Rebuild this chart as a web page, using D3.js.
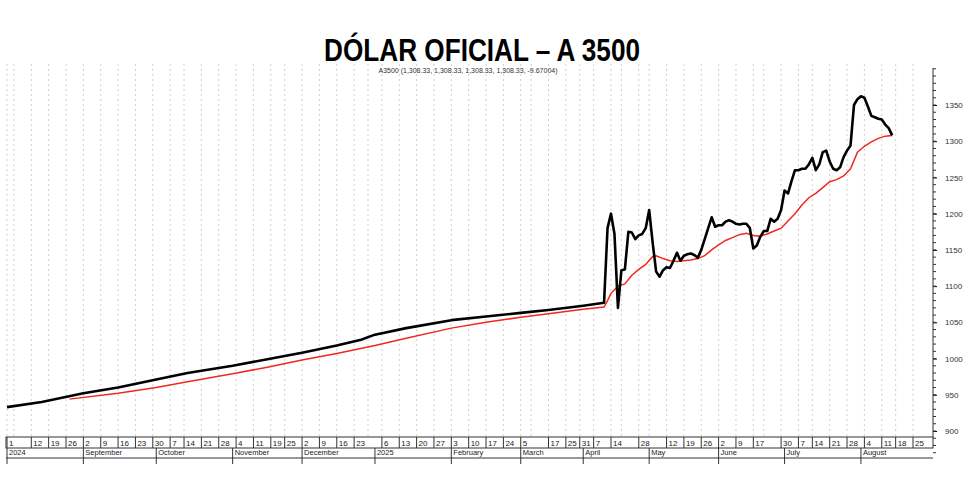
<!DOCTYPE html>
<html><head><meta charset="utf-8">
<script src="https://cdn.jsdelivr.net/npm/d3@7"></script>
<style>body{margin:0;background:#fff}text{font-family:"Liberation Sans",Arial,sans-serif}</style>
</head><body><div id="chart"></div>
<script>
// Argentine market holidays in the range (no trading)
const holidays = ["2024-10-11","2024-11-18","2024-12-25","2025-01-01","2025-03-03","2025-03-04",
  "2025-03-24","2025-04-02","2025-04-17","2025-04-18","2025-05-01","2025-05-02","2025-06-16",
  "2025-06-20","2025-07-09","2025-08-15"];

const blackSeries = [
  ["2024-08-01",933],["2024-08-15",940],["2024-09-02",952],["2024-09-16",960],["2024-10-01",971],
  ["2024-10-15",980],["2024-11-01",990],["2024-11-15",999],["2024-12-02",1008],["2024-12-16",1018],
  ["2024-12-26",1026],["2025-01-02",1033],["2025-01-15",1042],["2025-02-03",1053],["2025-02-17",1058],
  ["2025-03-05",1063],["2025-03-17",1067],["2025-04-01",1073],["2025-04-10",1077],
  ["2025-04-11",1180],["2025-04-14",1200],["2025-04-15",1172],["2025-04-16",1070],["2025-04-21",1122],
  ["2025-04-22",1123],["2025-04-23",1175],["2025-04-24",1174],["2025-04-25",1165],["2025-04-28",1170],
  ["2025-04-29",1172],["2025-04-30",1180],["2025-05-05",1205],["2025-05-06",1160],["2025-05-07",1120],
  ["2025-05-08",1113],["2025-05-09",1122],["2025-05-12",1126],["2025-05-13",1125],["2025-05-14",1135],
  ["2025-05-15",1146],["2025-05-16",1135],["2025-05-19",1142],["2025-05-20",1144],["2025-05-21",1145],
  ["2025-05-22",1143],["2025-05-23",1139],["2025-05-26",1150],["2025-05-27",1165],["2025-05-28",1180],
  ["2025-05-29",1195],["2025-05-30",1182],["2025-06-02",1184],["2025-06-03",1184],["2025-06-04",1189],
  ["2025-06-05",1191],["2025-06-06",1189],["2025-06-09",1186],["2025-06-10",1185],["2025-06-11",1186],
  ["2025-06-12",1186],["2025-06-13",1180],["2025-06-17",1152],["2025-06-18",1156],["2025-06-19",1168],
  ["2025-06-23",1176],["2025-06-24",1176],["2025-06-25",1193],["2025-06-26",1189],["2025-06-27",1193],
  ["2025-06-30",1205],["2025-07-01",1232],["2025-07-02",1228],["2025-07-03",1245],["2025-07-04",1260],
  ["2025-07-07",1260],["2025-07-08",1262],["2025-07-10",1262],["2025-07-11",1268],["2025-07-14",1277],
  ["2025-07-15",1260],["2025-07-16",1268],["2025-07-17",1285],["2025-07-18",1287],["2025-07-21",1272],
  ["2025-07-22",1262],["2025-07-23",1260],["2025-07-24",1264],["2025-07-25",1278],["2025-07-28",1287],
  ["2025-07-29",1294],["2025-07-30",1350],["2025-07-31",1358],["2025-08-01",1362],["2025-08-04",1360],
  ["2025-08-05",1348],["2025-08-06",1335],["2025-08-07",1333],["2025-08-08",1331],["2025-08-11",1330],
  ["2025-08-12",1323],["2025-08-13",1318],["2025-08-14",1308]];

const redSeries = [
  ["2024-08-27",944],["2024-09-16",952],["2024-10-01",960],["2024-10-15",968],["2024-11-01",979],
  ["2024-11-15",988],["2024-12-02",998],["2024-12-16",1007],["2025-01-02",1018],["2025-01-15",1028],
  ["2025-02-03",1042],["2025-02-17",1050],["2025-03-05",1057],["2025-03-17",1062],["2025-04-01",1068],
  ["2025-04-10",1071],["2025-04-11",1080],["2025-04-14",1090],["2025-04-16",1100],["2025-04-22",1103],
  ["2025-04-24",1115],["2025-04-28",1123],["2025-04-30",1130],["2025-05-06",1141],["2025-05-07",1142],
  ["2025-05-09",1138],["2025-05-13",1135],["2025-05-15",1134],["2025-05-19",1135],["2025-05-21",1136],
  ["2025-05-23",1138],["2025-05-27",1142],["2025-05-29",1150],["2025-06-02",1157],["2025-06-04",1163],
  ["2025-06-06",1167],["2025-06-10",1171],["2025-06-12",1173],["2025-06-17",1170],["2025-06-19",1169],
  ["2025-06-24",1172],["2025-06-26",1176],["2025-06-30",1180],["2025-07-02",1190],["2025-07-04",1200],
  ["2025-07-08",1212],["2025-07-11",1222],["2025-07-15",1228],["2025-07-17",1236],["2025-07-21",1244],
  ["2025-07-23",1247],["2025-07-25",1252],["2025-07-29",1262],["2025-07-31",1285],["2025-08-04",1293],
  ["2025-08-06",1299],["2025-08-08",1304],["2025-08-12",1307],["2025-08-14",1308]];

const dayLabels = ["2024-08-01","2024-08-12","2024-08-19","2024-08-26","2024-09-02","2024-09-09","2024-09-16",
  "2024-09-23","2024-09-30","2024-10-07","2024-10-14","2024-10-21","2024-10-28","2024-11-04","2024-11-11",
  "2024-11-19","2024-11-25","2024-12-02","2024-12-09","2024-12-16","2024-12-23","2025-01-06","2025-01-13",
  "2025-01-20","2025-01-27","2025-02-03","2025-02-10","2025-02-17","2025-02-24","2025-03-05","2025-03-17",
  "2025-03-25","2025-03-31","2025-04-07","2025-04-14","2025-04-28","2025-05-12","2025-05-19","2025-05-26",
  "2025-06-02","2025-06-09","2025-06-17","2025-06-30","2025-07-07","2025-07-14","2025-07-21","2025-07-28",
  "2025-08-04","2025-08-11","2025-08-18","2025-08-25"];

const monthLabels = [["2024-08-01","2024"],["2024-09-02","September"],["2024-10-01","October"],
  ["2024-11-01","November"],["2024-12-02","December"],["2025-01-02","2025"],["2025-02-03","February"],
  ["2025-03-05","March"],["2025-04-01","April"],["2025-05-05","May"],["2025-06-02","June"],
  ["2025-07-01","July"],["2025-08-01","August"]];

const yTicks = [900,950,1000,1050,1100,1150,1200,1250,1300,1350];

const W = 980, H = 480;
const parse = d3.timeParse("%Y-%m-%d"), fmt = d3.timeFormat("%Y-%m-%d");

// trading-day index for every date in range
const days = d3.timeDay.range(parse("2024-08-01"), parse("2025-08-30"))
  .filter(d => d.getDay() !== 0 && d.getDay() !== 6 && !holidays.includes(fmt(d)));
const idx = new Map(days.map((d, i) => [fmt(d), i]));
const ti = s => idx.get(s);

const x = d3.scaleLinear().domain([0, ti("2025-08-25")]).range([7, 913]);
const y = d3.scaleLinear().domain([900, 1350]).range([431, 105]);

const svg = d3.select("#chart").append("svg").attr("width", W).attr("height", H);

// weekly gridlines
const weekStarts = days.filter((d, i) => i === 0 || d3.timeMonday.floor(d) > d3.timeMonday.floor(days[i - 1]));
svg.append("g").selectAll("line").data(weekStarts).enter().append("line")
  .attr("x1", d => x(ti(fmt(d)))).attr("x2", d => x(ti(fmt(d))))
  .attr("y1", 64).attr("y2", 437)
  .attr("stroke", "#cfcfcf").attr("stroke-dasharray", "2,3");

svg.append("text").attr("x", 482).attr("y", 61).attr("text-anchor", "middle")
  .attr("font-family", "'DejaVu Sans Condensed','DejaVu Sans',sans-serif")
  .attr("font-size", 31).attr("font-weight", "bold")
  .attr("textLength", 316).attr("lengthAdjust", "spacingAndGlyphs")
  .text("DÓLAR OFICIAL – A 3500");
svg.append("text").attr("x", 468).attr("y", 73).attr("text-anchor", "middle")
  .attr("font-size", 7).attr("fill", "#333")
  .text("A3500 (1,308.33, 1,308.33, 1,308.33, 1,308.33, -9.67004)");

// right axis
const yAxis = d3.axisRight(y).tickValues(yTicks).tickFormat(d3.format("d")).tickSize(4).tickPadding(8);
const ga = svg.append("g").attr("transform", "translate(933,0)").call(yAxis);
ga.select(".domain").remove();
ga.selectAll("text").attr("font-size", 8).attr("fill", "#333");
svg.append("line").attr("x1", 933).attr("x2", 933).attr("y1", 68).attr("y2", 437).attr("stroke", "#333");
svg.append("g").selectAll("line").data(d3.range(870, 1401, 10)).enter().append("line")
  .attr("x1", 933).attr("x2", 936).attr("y1", d => y(d)).attr("y2", d => y(d)).attr("stroke", "#333");

// bottom date axis box
const bx = svg.append("g");
bx.append("rect").attr("x", 6).attr("y", 437).attr("width", 927).attr("height", 11)
  .attr("fill", "none").attr("stroke", "#333");
bx.append("line").attr("x1", 6).attr("x2", 933).attr("y1", 458).attr("y2", 458).attr("stroke", "#333");
bx.selectAll(".dl").data(dayLabels).enter().append("line")
  .attr("x1", d => x(ti(d))).attr("x2", d => x(ti(d))).attr("y1", 437).attr("y2", 448).attr("stroke", "#333");
bx.selectAll(".dt").data(dayLabels).enter().append("text")
  .attr("x", d => x(ti(d)) + 2).attr("y", 446).attr("font-size", 8).attr("fill", "#222")
  .text(d => +d.slice(8));
bx.selectAll(".ml").data(monthLabels).enter().append("line")
  .attr("x1", d => x(ti(d[0]))).attr("x2", d => x(ti(d[0]))).attr("y1", 448).attr("y2", 464).attr("stroke", "#333");
bx.selectAll(".mt").data(monthLabels).enter().append("text")
  .attr("x", d => x(ti(d[0])) + 2).attr("y", 455).attr("font-size", 7.5).attr("fill", "#222")
  .text(d => d[1]);

const line = d3.line().x(d => x(ti(d[0]))).y(d => y(d[1]));
svg.append("path").datum(redSeries).attr("d", line).attr("fill", "none")
  .attr("stroke", "#f0281e").attr("stroke-width", 1.5);
svg.append("path").datum(blackSeries).attr("d", line).attr("fill", "none")
  .attr("stroke", "#000").attr("stroke-width", 2.6).attr("stroke-linejoin", "round");
</script></body></html>
